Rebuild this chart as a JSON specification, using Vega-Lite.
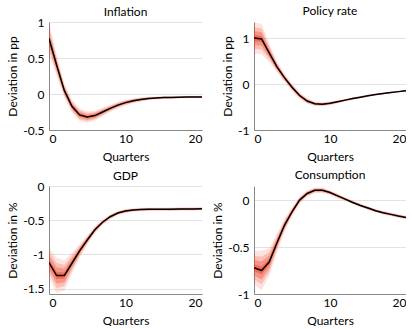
{
  "$schema": "https://vega.github.io/schema/vega-lite/v6.json",
  "padding": {"left": 6, "top": 5, "right": 0, "bottom": 0},
  "spacing": {"row": 7, "column": 9},
  "config": {
    "font": "Lato",
    "view": {"stroke": null},
    "title": {"fontSize": 12, "fontWeight": "normal", "color": "#000", "frame": "group"},
    "axis": {"labelFontSize": 12, "titleFontSize": 12, "titleFontWeight": "normal", "labelColor": "#000", "titleColor": "#000", "ticks": false, "tickSize": 0, "domainColor": "#888", "gridColor": "#e3e3e3", "format": "~g", "labelExpr": "replace(datum.label, '\u2212', '-')"}
  },
  "datasets": {
    "irf": [
      {"p":"Inflation","t":0,"m":0.77,"w1":0.22,"w2":0.154,"w3":0.099,"w4":0.044},
      {"p":"Inflation","t":1,"m":0.40,"w1":0.15,"w2":0.105,"w3":0.068,"w4":0.03},
      {"p":"Inflation","t":2,"m":0.05,"w1":0.10,"w2":0.07,"w3":0.045,"w4":0.02},
      {"p":"Inflation","t":3,"m":-0.17,"w1":0.09,"w2":0.063,"w3":0.041,"w4":0.018},
      {"p":"Inflation","t":4,"m":-0.29,"w1":0.09,"w2":0.063,"w3":0.041,"w4":0.018},
      {"p":"Inflation","t":5,"m":-0.32,"w1":0.08,"w2":0.056,"w3":0.036,"w4":0.016},
      {"p":"Inflation","t":6,"m":-0.30,"w1":0.07,"w2":0.049,"w3":0.032,"w4":0.014},
      {"p":"Inflation","t":7,"m":-0.25,"w1":0.06,"w2":0.042,"w3":0.027,"w4":0.012},
      {"p":"Inflation","t":8,"m":-0.20,"w1":0.05,"w2":0.035,"w3":0.023,"w4":0.01},
      {"p":"Inflation","t":9,"m":-0.155,"w1":0.045,"w2":0.032,"w3":0.02,"w4":0.009},
      {"p":"Inflation","t":10,"m":-0.12,"w1":0.04,"w2":0.028,"w3":0.018,"w4":0.008},
      {"p":"Inflation","t":11,"m":-0.095,"w1":0.035,"w2":0.025,"w3":0.016,"w4":0.007},
      {"p":"Inflation","t":12,"m":-0.075,"w1":0.03,"w2":0.021,"w3":0.014,"w4":0.006},
      {"p":"Inflation","t":13,"m":-0.063,"w1":0.025,"w2":0.018,"w3":0.011,"w4":0.005},
      {"p":"Inflation","t":14,"m":-0.055,"w1":0.02,"w2":0.014,"w3":0.009,"w4":0.004},
      {"p":"Inflation","t":15,"m":-0.05,"w1":0.02,"w2":0.014,"w3":0.009,"w4":0.004},
      {"p":"Inflation","t":16,"m":-0.047,"w1":0.02,"w2":0.014,"w3":0.009,"w4":0.004},
      {"p":"Inflation","t":17,"m":-0.045,"w1":0.015,"w2":0.011,"w3":0.007,"w4":0.003},
      {"p":"Inflation","t":18,"m":-0.043,"w1":0.015,"w2":0.011,"w3":0.007,"w4":0.003},
      {"p":"Inflation","t":19,"m":-0.042,"w1":0.015,"w2":0.011,"w3":0.007,"w4":0.003},
      {"p":"Inflation","t":20,"m":-0.04,"w1":0.015,"w2":0.011,"w3":0.007,"w4":0.003},

      {"p":"Policy rate","t":0,"m":1.00,"w1":0.34,"w2":0.238,"w3":0.153,"w4":0.068},
      {"p":"Policy rate","t":1,"m":0.98,"w1":0.33,"w2":0.231,"w3":0.149,"w4":0.066},
      {"p":"Policy rate","t":2,"m":0.68,"w1":0.20,"w2":0.14,"w3":0.09,"w4":0.04},
      {"p":"Policy rate","t":3,"m":0.38,"w1":0.12,"w2":0.084,"w3":0.054,"w4":0.024},
      {"p":"Policy rate","t":4,"m":0.14,"w1":0.09,"w2":0.063,"w3":0.041,"w4":0.018},
      {"p":"Policy rate","t":5,"m":-0.07,"w1":0.08,"w2":0.056,"w3":0.036,"w4":0.016},
      {"p":"Policy rate","t":6,"m":-0.25,"w1":0.07,"w2":0.049,"w3":0.032,"w4":0.014},
      {"p":"Policy rate","t":7,"m":-0.37,"w1":0.06,"w2":0.042,"w3":0.027,"w4":0.012},
      {"p":"Policy rate","t":8,"m":-0.43,"w1":0.05,"w2":0.035,"w3":0.023,"w4":0.01},
      {"p":"Policy rate","t":9,"m":-0.44,"w1":0.045,"w2":0.032,"w3":0.02,"w4":0.009},
      {"p":"Policy rate","t":10,"m":-0.42,"w1":0.04,"w2":0.028,"w3":0.018,"w4":0.008},
      {"p":"Policy rate","t":11,"m":-0.385,"w1":0.035,"w2":0.025,"w3":0.016,"w4":0.007},
      {"p":"Policy rate","t":12,"m":-0.35,"w1":0.03,"w2":0.021,"w3":0.014,"w4":0.006},
      {"p":"Policy rate","t":13,"m":-0.315,"w1":0.03,"w2":0.021,"w3":0.014,"w4":0.006},
      {"p":"Policy rate","t":14,"m":-0.285,"w1":0.025,"w2":0.018,"w3":0.011,"w4":0.005},
      {"p":"Policy rate","t":15,"m":-0.255,"w1":0.025,"w2":0.018,"w3":0.011,"w4":0.005},
      {"p":"Policy rate","t":16,"m":-0.23,"w1":0.02,"w2":0.014,"w3":0.009,"w4":0.004},
      {"p":"Policy rate","t":17,"m":-0.205,"w1":0.02,"w2":0.014,"w3":0.009,"w4":0.004},
      {"p":"Policy rate","t":18,"m":-0.185,"w1":0.02,"w2":0.014,"w3":0.009,"w4":0.004},
      {"p":"Policy rate","t":19,"m":-0.165,"w1":0.02,"w2":0.014,"w3":0.009,"w4":0.004},
      {"p":"Policy rate","t":20,"m":-0.145,"w1":0.02,"w2":0.014,"w3":0.009,"w4":0.004},

      {"p":"GDP","t":0,"m":-1.12,"w1":0.22,"w2":0.154,"w3":0.099,"w4":0.044},
      {"p":"GDP","t":1,"m":-1.31,"w1":0.26,"w2":0.182,"w3":0.117,"w4":0.052},
      {"p":"GDP","t":2,"m":-1.31,"w1":0.22,"w2":0.154,"w3":0.099,"w4":0.044},
      {"p":"GDP","t":3,"m":-1.13,"w1":0.15,"w2":0.105,"w3":0.068,"w4":0.03},
      {"p":"GDP","t":4,"m":-0.95,"w1":0.10,"w2":0.07,"w3":0.045,"w4":0.02},
      {"p":"GDP","t":5,"m":-0.79,"w1":0.07,"w2":0.049,"w3":0.032,"w4":0.014},
      {"p":"GDP","t":6,"m":-0.64,"w1":0.05,"w2":0.035,"w3":0.023,"w4":0.01},
      {"p":"GDP","t":7,"m":-0.53,"w1":0.04,"w2":0.028,"w3":0.018,"w4":0.008},
      {"p":"GDP","t":8,"m":-0.45,"w1":0.035,"w2":0.025,"w3":0.016,"w4":0.007},
      {"p":"GDP","t":9,"m":-0.395,"w1":0.03,"w2":0.021,"w3":0.014,"w4":0.006},
      {"p":"GDP","t":10,"m":-0.365,"w1":0.03,"w2":0.021,"w3":0.014,"w4":0.006},
      {"p":"GDP","t":11,"m":-0.35,"w1":0.025,"w2":0.018,"w3":0.011,"w4":0.005},
      {"p":"GDP","t":12,"m":-0.343,"w1":0.025,"w2":0.018,"w3":0.011,"w4":0.005},
      {"p":"GDP","t":13,"m":-0.34,"w1":0.025,"w2":0.018,"w3":0.011,"w4":0.005},
      {"p":"GDP","t":14,"m":-0.34,"w1":0.025,"w2":0.018,"w3":0.011,"w4":0.005},
      {"p":"GDP","t":15,"m":-0.34,"w1":0.025,"w2":0.018,"w3":0.011,"w4":0.005},
      {"p":"GDP","t":16,"m":-0.34,"w1":0.025,"w2":0.018,"w3":0.011,"w4":0.005},
      {"p":"GDP","t":17,"m":-0.338,"w1":0.025,"w2":0.018,"w3":0.011,"w4":0.005},
      {"p":"GDP","t":18,"m":-0.337,"w1":0.025,"w2":0.018,"w3":0.011,"w4":0.005},
      {"p":"GDP","t":19,"m":-0.335,"w1":0.025,"w2":0.018,"w3":0.011,"w4":0.005},
      {"p":"GDP","t":20,"m":-0.333,"w1":0.025,"w2":0.018,"w3":0.011,"w4":0.005},

      {"p":"Consumption","t":0,"m":-0.72,"w1":0.18,"w2":0.126,"w3":0.081,"w4":0.036},
      {"p":"Consumption","t":1,"m":-0.75,"w1":0.21,"w2":0.147,"w3":0.095,"w4":0.042},
      {"p":"Consumption","t":2,"m":-0.66,"w1":0.15,"w2":0.105,"w3":0.068,"w4":0.03},
      {"p":"Consumption","t":3,"m":-0.46,"w1":0.10,"w2":0.07,"w3":0.045,"w4":0.02},
      {"p":"Consumption","t":4,"m":-0.27,"w1":0.07,"w2":0.049,"w3":0.032,"w4":0.014},
      {"p":"Consumption","t":5,"m":-0.125,"w1":0.05,"w2":0.035,"w3":0.023,"w4":0.01},
      {"p":"Consumption","t":6,"m":0.0,"w1":0.04,"w2":0.028,"w3":0.018,"w4":0.008},
      {"p":"Consumption","t":7,"m":0.07,"w1":0.035,"w2":0.025,"w3":0.016,"w4":0.007},
      {"p":"Consumption","t":8,"m":0.105,"w1":0.03,"w2":0.021,"w3":0.014,"w4":0.006},
      {"p":"Consumption","t":9,"m":0.105,"w1":0.03,"w2":0.021,"w3":0.014,"w4":0.006},
      {"p":"Consumption","t":10,"m":0.08,"w1":0.025,"w2":0.018,"w3":0.011,"w4":0.005},
      {"p":"Consumption","t":11,"m":0.045,"w1":0.025,"w2":0.018,"w3":0.011,"w4":0.005},
      {"p":"Consumption","t":12,"m":0.01,"w1":0.02,"w2":0.014,"w3":0.009,"w4":0.004},
      {"p":"Consumption","t":13,"m":-0.025,"w1":0.02,"w2":0.014,"w3":0.009,"w4":0.004},
      {"p":"Consumption","t":14,"m":-0.057,"w1":0.02,"w2":0.014,"w3":0.009,"w4":0.004},
      {"p":"Consumption","t":15,"m":-0.085,"w1":0.02,"w2":0.014,"w3":0.009,"w4":0.004},
      {"p":"Consumption","t":16,"m":-0.113,"w1":0.02,"w2":0.014,"w3":0.009,"w4":0.004},
      {"p":"Consumption","t":17,"m":-0.135,"w1":0.02,"w2":0.014,"w3":0.009,"w4":0.004},
      {"p":"Consumption","t":18,"m":-0.152,"w1":0.02,"w2":0.014,"w3":0.009,"w4":0.004},
      {"p":"Consumption","t":19,"m":-0.17,"w1":0.02,"w2":0.014,"w3":0.009,"w4":0.004},
      {"p":"Consumption","t":20,"m":-0.185,"w1":0.02,"w2":0.014,"w3":0.009,"w4":0.004}
    ]
  },
  "columns": 2,
  "concat": [
    {
      "title": {"text": "Inflation", "offset": -3},
      "width": 153, "height": 108,
      "data": {"name": "irf"},
      "transform": [{"filter": "datum.p === 'Inflation'"}],
      "encoding": {
        "x": {"field": "t", "type": "quantitative", "scale": {"domain": [0, 20], "nice": false}, "axis": {"values": [0, 10, 20], "grid": false, "title": "Quarters", "labelPadding": 3, "titlePadding": 7}},
        "y": {"field": "m", "type": "quantitative", "scale": {"domain": [-0.5, 1], "nice": false, "zero": false}, "axis": {"values": [-0.5, 0, 0.5, 1], "title": "Deviation in pp", "labelPadding": 5, "titlePadding": 3}}
      },
      "layer": [
        {"mark": {"type": "errorband", "clip": true, "band": {"color": "#f03a1e", "opacity": 0.14}}, "encoding": {"yError": {"field": "w1"}}},
        {"mark": {"type": "errorband", "clip": true, "band": {"color": "#f03a1e", "opacity": 0.22}}, "encoding": {"yError": {"field": "w2"}}},
        {"mark": {"type": "errorband", "clip": true, "band": {"color": "#f03a1e", "opacity": 0.32}}, "encoding": {"yError": {"field": "w3"}}},
        {"mark": {"type": "errorband", "clip": true, "band": {"color": "#f03a1e", "opacity": 0.45}}, "encoding": {"yError": {"field": "w4"}}},
        {"mark": {"type": "line", "color": "#000", "strokeWidth": 1.5, "clip": true}}
      ]
    },
    {
      "title": {"text": "Policy rate", "offset": 4},
      "width": 152, "height": 108,
      "data": {"name": "irf"},
      "transform": [{"filter": "datum.p === 'Policy rate'"}],
      "encoding": {
        "x": {"field": "t", "type": "quantitative", "scale": {"domain": [0, 20], "nice": false}, "axis": {"values": [0, 10, 20], "grid": false, "title": "Quarters", "labelPadding": 3, "titlePadding": 7}},
        "y": {"field": "m", "type": "quantitative", "scale": {"domain": [-1, 1.35], "nice": false, "zero": false}, "axis": {"values": [-1, 0, 1], "title": "Deviation in pp", "labelPadding": 5, "titlePadding": 3}}
      },
      "layer": [
        {"mark": {"type": "errorband", "clip": true, "band": {"color": "#f03a1e", "opacity": 0.14}}, "encoding": {"yError": {"field": "w1"}}},
        {"mark": {"type": "errorband", "clip": true, "band": {"color": "#f03a1e", "opacity": 0.22}}, "encoding": {"yError": {"field": "w2"}}},
        {"mark": {"type": "errorband", "clip": true, "band": {"color": "#f03a1e", "opacity": 0.32}}, "encoding": {"yError": {"field": "w3"}}},
        {"mark": {"type": "errorband", "clip": true, "band": {"color": "#f03a1e", "opacity": 0.45}}, "encoding": {"yError": {"field": "w4"}}},
        {"mark": {"type": "line", "color": "#000", "strokeWidth": 1.5, "clip": true}}
      ]
    },
    {
      "title": {"text": "GDP", "offset": -3},
      "width": 153, "height": 108,
      "data": {"name": "irf"},
      "transform": [{"filter": "datum.p === 'GDP'"}],
      "encoding": {
        "x": {"field": "t", "type": "quantitative", "scale": {"domain": [0, 20], "nice": false}, "axis": {"values": [0, 10, 20], "grid": false, "title": "Quarters", "labelPadding": 3, "titlePadding": 7}},
        "y": {"field": "m", "type": "quantitative", "scale": {"domain": [-1.58, 0], "nice": false, "zero": false}, "axis": {"values": [-1.5, -1, -0.5, 0], "title": "Deviation in %", "labelPadding": 5, "titlePadding": 3}}
      },
      "layer": [
        {"mark": {"type": "errorband", "clip": true, "band": {"color": "#f03a1e", "opacity": 0.14}}, "encoding": {"yError": {"field": "w1"}}},
        {"mark": {"type": "errorband", "clip": true, "band": {"color": "#f03a1e", "opacity": 0.22}}, "encoding": {"yError": {"field": "w2"}}},
        {"mark": {"type": "errorband", "clip": true, "band": {"color": "#f03a1e", "opacity": 0.32}}, "encoding": {"yError": {"field": "w3"}}},
        {"mark": {"type": "errorband", "clip": true, "band": {"color": "#f03a1e", "opacity": 0.45}}, "encoding": {"yError": {"field": "w4"}}},
        {"mark": {"type": "line", "color": "#000", "strokeWidth": 1.5, "clip": true}}
      ]
    },
    {
      "title": {"text": "Consumption", "offset": 4},
      "width": 152, "height": 108,
      "data": {"name": "irf"},
      "transform": [{"filter": "datum.p === 'Consumption'"}],
      "encoding": {
        "x": {"field": "t", "type": "quantitative", "scale": {"domain": [0, 20], "nice": false}, "axis": {"values": [0, 10, 20], "grid": false, "title": "Quarters", "labelPadding": 3, "titlePadding": 7}},
        "y": {"field": "m", "type": "quantitative", "scale": {"domain": [-1, 0.15], "nice": false, "zero": false}, "axis": {"values": [-1, -0.5, 0], "title": "Deviation in %", "labelPadding": 5, "titlePadding": 3}}
      },
      "layer": [
        {"mark": {"type": "errorband", "clip": true, "band": {"color": "#f03a1e", "opacity": 0.14}}, "encoding": {"yError": {"field": "w1"}}},
        {"mark": {"type": "errorband", "clip": true, "band": {"color": "#f03a1e", "opacity": 0.22}}, "encoding": {"yError": {"field": "w2"}}},
        {"mark": {"type": "errorband", "clip": true, "band": {"color": "#f03a1e", "opacity": 0.32}}, "encoding": {"yError": {"field": "w3"}}},
        {"mark": {"type": "errorband", "clip": true, "band": {"color": "#f03a1e", "opacity": 0.45}}, "encoding": {"yError": {"field": "w4"}}},
        {"mark": {"type": "line", "color": "#000", "strokeWidth": 1.5, "clip": true}}
      ]
    }
  ]
}
